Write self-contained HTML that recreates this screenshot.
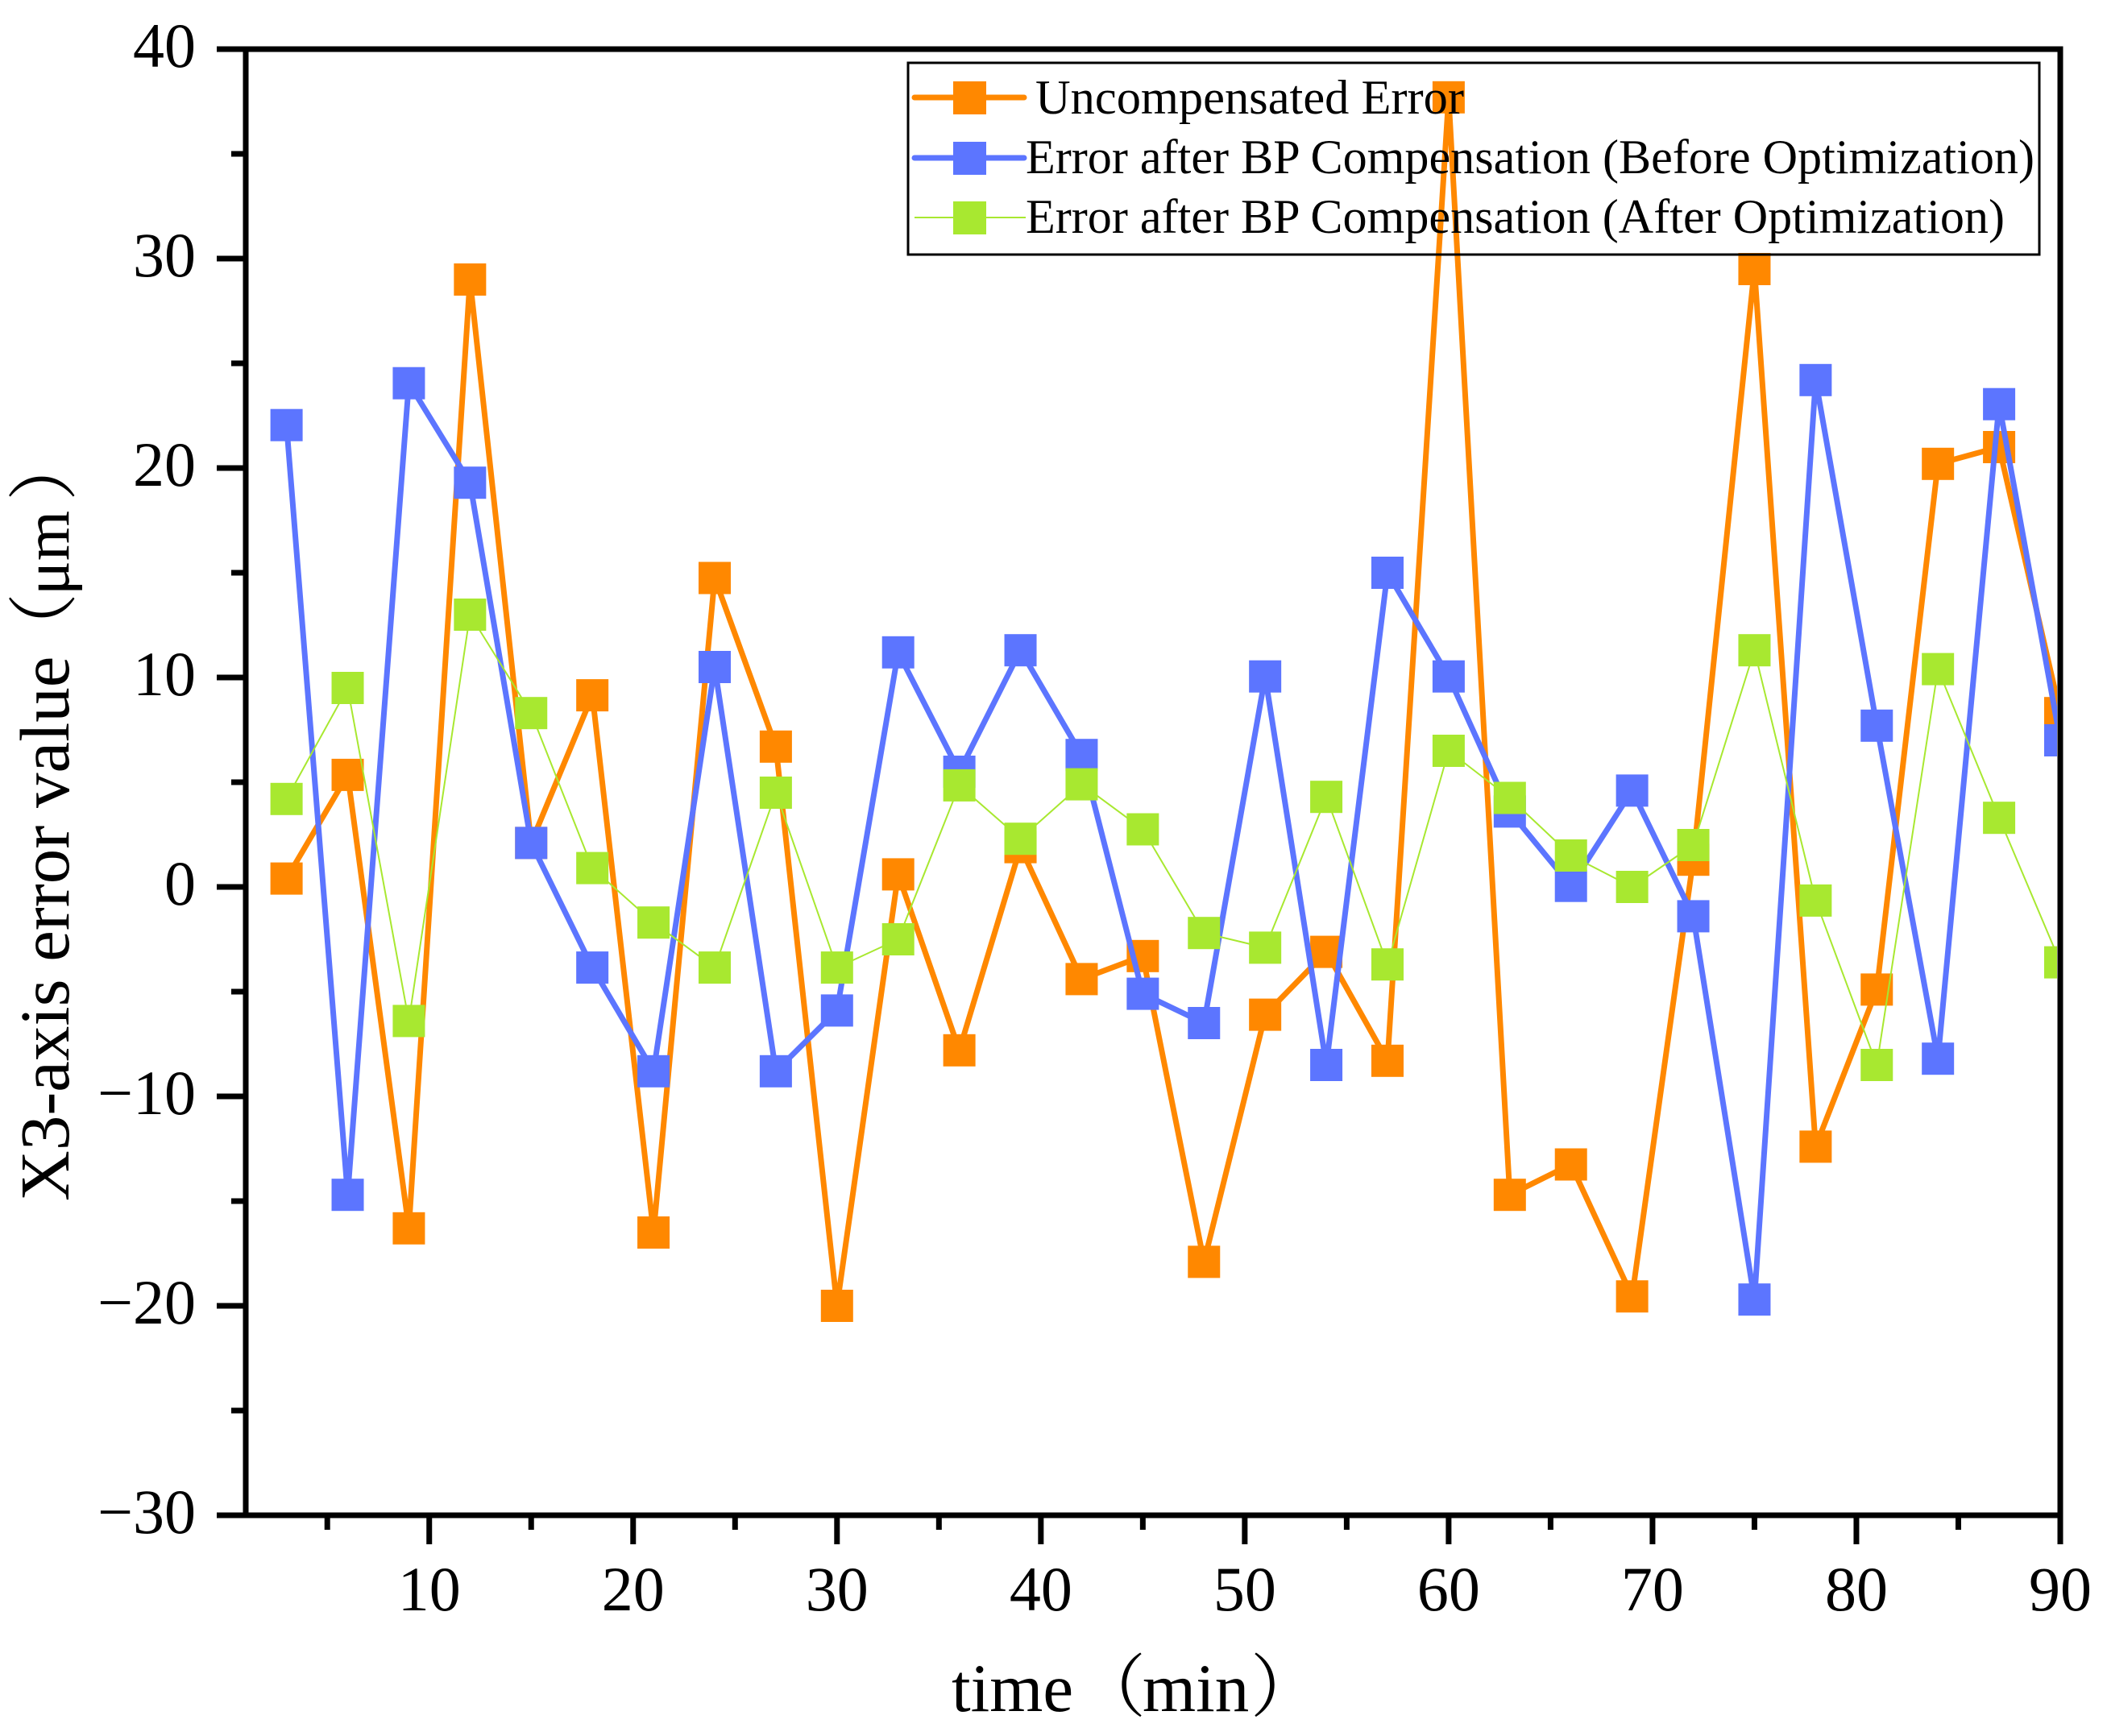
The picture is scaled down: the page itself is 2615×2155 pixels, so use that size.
<!DOCTYPE html>
<html lang="en">
<head>
<meta charset="utf-8">
<title>X3-axis error value over time</title>
<style>
html,body{margin:0;padding:0;background:#fff;}
body{width:2615px;height:2155px;overflow:hidden;}
svg{display:block;}
text{font-family:"Liberation Serif","Noto Serif CJK SC",serif;fill:#000;}
</style>
</head>
<body>
<svg id="chart" xmlns="http://www.w3.org/2000/svg" width="2615" height="2155" viewBox="0 0 2615 2155">
  <defs><clipPath id="plot-clip"><rect x="305" y="61" width="2248" height="1820"/></clipPath></defs>
  <rect x="0" y="0" width="2615" height="2155" fill="#fff"/>
  <g id="series-layer" clip-path="url(#plot-clip)"></g>
  <g id="axes-layer"></g>
  <text y="2124" font-size="85"><tspan x="1181">time</tspan><tspan x="1337">（</tspan><tspan x="1418">min</tspan><tspan x="1552">）</tspan></text>
  <text transform="translate(85,1491) rotate(-90)" y="0" font-size="87"><tspan x="0">X3-axis error value</tspan><tspan x="668">（</tspan><tspan x="752" font-size="80">μm</tspan><tspan x="869">）</tspan></text>
  <g>
    <rect x="1127" y="78" width="1404" height="238" fill="none" stroke="#000" stroke-width="3"/>
    <g>
      <line x1="1135" y1="121" x2="1271" y2="121" stroke="#ff8800" stroke-width="7" stroke-linecap="round"/>
      <rect x="1183" y="101" width="41" height="41" fill="#ff8800"/>
      <text x="1285" y="141" font-size="60" textLength="532" lengthAdjust="spacingAndGlyphs">Uncompensated Error</text>
    </g>
    <g>
      <line x1="1135" y1="196" x2="1271" y2="196" stroke="#5c75ff" stroke-width="7" stroke-linecap="round"/>
      <rect x="1183" y="176" width="41" height="41" fill="#5c75ff"/>
      <text x="1273" y="215" font-size="60" textLength="1252" lengthAdjust="spacingAndGlyphs">Error after BP Compensation (Before Optimization)</text>
    </g>
    <g>
      <line x1="1135" y1="270" x2="1273" y2="270" stroke="#a8e830" stroke-width="2"/>
      <rect x="1183" y="250" width="41" height="41" fill="#a8e830"/>
      <text x="1273" y="289" font-size="60" textLength="1215" lengthAdjust="spacingAndGlyphs">Error after BP Compensation (After Optimization)</text>
    </g>
  </g>
</svg>
<script>
const times = [3,6,9,12,15,18,21,24,27,30,33,36,39,42,45,48,51,54,57,60,63,66,69,72,75,78,81,84,87,90];
const uncompensated = [0.4,5.35,-16.3,29,2.1,9.15,-16.5,14.75,6.7,-20,0.6,-7.8,1.9,-4.4,-3.3,-17.9,-6.1,-3.1,-8.3,37.7,-14.7,-13.25,-19.55,1.3,29.5,-12.4,-4.9,20.2,21,8.3];
const beforeOptimization = [22.05,-14.7,24.05,19.3,2.1,-3.85,-8.8,10.5,-8.8,-5.9,11.2,5.5,11.3,6.3,-5.1,-6.5,10.05,-8.5,15,10.05,3.6,0.05,4.6,-1.4,-19.7,24.2,7.7,-8.2,23.05,7];
const afterOptimization = [4.2,9.5,-6.4,13,8.3,0.9,-1.7,-3.85,4.5,-3.85,-2.5,4.85,2.3,4.9,2.75,-2.2,-2.9,4.3,-3.7,6.5,4.25,1.5,0,2,11.3,-0.65,-8.5,10.4,3.3,-3.6];
const xMajorTicks = [10,20,30,40,50,60,70,80,90];
const xMinorTicks = [5,15,25,35,45,55,65,75,85];
const yMajorTicks = [40,30,20,10,0,-10,-20,-30];
const yMinorTicks = [35,25,15,5,-5,-15,-25];

const xScale = v => 305 + (v - 1) * (2252 / 89);
const yScale = v => 61 + (40 - v) * 26;
const NS = 'http://www.w3.org/2000/svg';
const seriesLayer = document.getElementById('series-layer');
const axesLayer = document.getElementById('axes-layer');

function make(tag, attrs, parent) {
  const el = document.createElementNS(NS, tag);
  for (const k in attrs) el.setAttribute(k, attrs[k]);
  parent.appendChild(el);
  return el;
}

function drawSeries(values, color, width, name) {
  const group = make('g', {}, seriesLayer);
  
  
  const pts = values.map((v, i) => xScale(times[i]).toFixed(1) + ',' + yScale(v).toFixed(1)).join(' ');
  const line = make('polyline', {points: pts, fill: 'none', stroke: color, 'stroke-width': width, 'stroke-linejoin': 'round'}, group);
  
  
  values.forEach((v, i) => {
    const m = make('rect', {x: xScale(times[i]) - 20, y: yScale(v) - 20, width: 40, height: 40, fill: color}, group);
    
    
  });
}

drawSeries(uncompensated, '#ff8800', 7, 'uncompensated');
drawSeries(beforeOptimization, '#5c75ff', 7, 'before-optimization');
drawSeries(afterOptimization, '#a8e830', 2, 'after-optimization');

function rule(x1, y1, x2, y2, name) {
  const l = make('line', {x1: x1, y1: y1, x2: x2, y2: y2, stroke: '#000', 'stroke-width': 7}, axesLayer);
  
  
}

const axisLeft = xScale(1), axisRight = xScale(90), axisTop = yScale(40), axisBottom = yScale(-30);
rule(axisLeft, axisTop - 3.5, axisLeft, axisBottom + 3.5, 'y-axis-line');
rule(axisRight, axisTop - 3.5, axisRight, axisBottom + 3.5, 'right-axis-line');
rule(axisLeft, axisTop, axisRight + 3.5, axisTop, 'top-axis-line');
rule(axisLeft, axisBottom, axisRight + 3.5, axisBottom, 'x-axis-line');

xMajorTicks.forEach(v => {
  rule(xScale(v), axisBottom, xScale(v), axisBottom + 36, 'x-major-tick');
  const t = make('text', {x: xScale(v), y: 1999, 'font-size': 78, 'text-anchor': 'middle'}, axesLayer);
  
  
  t.textContent = String(v);
});
xMinorTicks.forEach(v => rule(xScale(v), axisBottom, xScale(v), axisBottom + 18, 'x-minor-tick'));
yMajorTicks.forEach(v => {
  rule(axisLeft - 36, yScale(v), axisLeft, yScale(v), 'y-major-tick');
  const t = make('text', {x: 243, y: yScale(v) + 22, 'font-size': 78, 'text-anchor': 'end'}, axesLayer);
  
  
  t.textContent = String(v).replace('-', '\u2212');
});
yMinorTicks.forEach(v => rule(axisLeft - 18, yScale(v), axisLeft, yScale(v), 'y-minor-tick'));
</script>
</body>
</html>
